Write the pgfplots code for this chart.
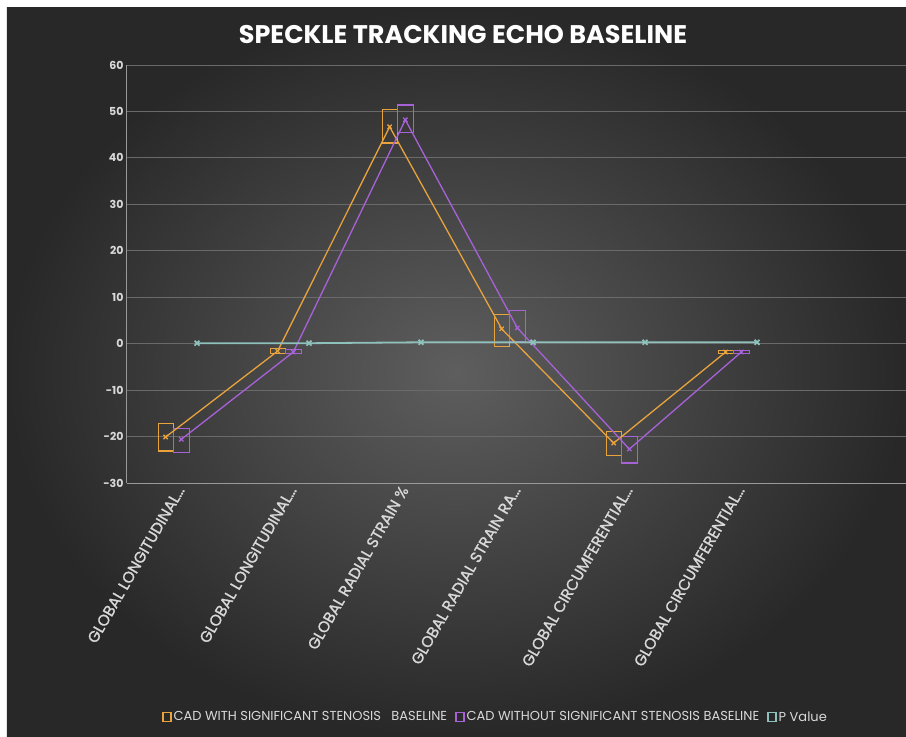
\documentclass[border=0pt]{standalone}
\usepackage{pgfplots}
\pgfplotsset{compat=1.18}
\usetikzlibrary{backgrounds}
\usepackage{fontspec}
\setmainfont{Poppins}
\newfontfamily\semib[FakeBold=1.2]{Poppins}
\definecolor{cado}{HTML}{E8A33D}
\definecolor{cadp}{HTML}{A862D8}
\definecolor{pval}{HTML}{8FC1BC}
\definecolor{txt}{HTML}{D9D9D9}
\definecolor{gridc}{HTML}{6A6A6A}
\begin{document}
\begin{tikzpicture}[x=1pt,y=1pt]
\begin{axis}[
  scale only axis, width=779pt, height=418pt,
  xmin=-0.5, xmax=6.455, ymin=-30, ymax=60,
  ytick={-30,-20,...,60},
  xtick={0,1,2,3,4,5},
  xticklabels={{GLOBAL LONGITUDINAL\ldots},{GLOBAL LONGITUDINAL\ldots},{GLOBAL RADIAL STRAIN \%},{GLOBAL RADIAL STRAIN RA\ldots},{GLOBAL CIRCUMFERENTIAL\ldots},{GLOBAL CIRCUMFERENTIAL\ldots}},
  x tick label style={rotate=60, anchor=east, text=txt, font=\semib\fontsize{15.5}{17}\selectfont, inner sep=5pt},
  y tick label style={text=txt, font=\bfseries\fontsize{11}{13}\selectfont},
  /pgf/number format/assume math mode=true,
  major tick length=0pt,
  ymajorgrids, grid style={gridc, line width=0.8pt},
  axis x line*=bottom, axis y line*=left,
  axis line style={draw=gray!80!white, line width=1pt},
  unbounded coords=jump,
  legend columns=3,
  legend style={at={(0.473,-0.56)}, anchor=center, draw=none, fill=none, text=txt, font=\fontsize{13}{15}\selectfont, /tikz/every even column/.append style={column sep=6pt}},
]
% boxes
\addplot[cado, line width=1.1pt, forget plot] coordinates {
(-0.222,-17.1)(-0.088,-17.1)(-0.088,-23.1)(-0.222,-23.1)(-0.222,-17.1)(nan,nan)
(0.778,-1.1)(0.912,-1.1)(0.912,-2.1)(0.778,-2.1)(0.778,-1.1)(nan,nan)
(1.778,50.5)(1.912,50.5)(1.912,43.2)(1.778,43.2)(1.778,50.5)(nan,nan)
(2.778,6.2)(2.912,6.2)(2.912,-0.7)(2.778,-0.7)(2.778,6.2)(nan,nan)
(3.778,-19.0)(3.912,-19.0)(3.912,-24.0)(3.778,-24.0)(3.778,-19.0)(nan,nan)
(4.778,-1.4)(4.912,-1.4)(4.912,-2.2)(4.778,-2.2)(4.778,-1.4)};
\addplot[cadp, line width=1.1pt, forget plot] coordinates {
(-0.085,-18.2)(0.055,-18.2)(0.055,-23.5)(-0.085,-23.5)(-0.085,-18.2)(nan,nan)
(0.915,-1.3)(1.055,-1.3)(1.055,-2.2)(0.915,-2.2)(0.915,-1.3)(nan,nan)
(1.915,51.4)(2.055,51.4)(2.055,45.4)(1.915,45.4)(1.915,51.4)(nan,nan)
(2.915,7.2)(3.055,7.2)(3.055,0.5)(2.915,0.5)(2.915,7.2)(nan,nan)
(3.915,-19.9)(4.055,-19.9)(4.055,-25.7)(3.915,-25.7)(3.915,-19.9)(nan,nan)
(4.915,-1.4)(5.055,-1.4)(5.055,-2.2)(4.915,-2.2)(4.915,-1.4)};
% lines
\addplot[cado, line width=1.3pt, mark=x, mark size=3pt, mark options={solid},
  legend image code/.code={\draw[draw=cado, line width=1.5pt] (0pt,-4.5pt) rectangle (8pt,4.5pt);}] coordinates {
(-0.155,-20.1)(0.845,-1.6)(1.845,46.7)(2.845,3.2)(3.845,-21.4)(4.845,-1.8)};
\addlegendentry{CAD WITH SIGNIFICANT STENOSIS\ \ \ BASELINE}
\addplot[cadp, line width=1.3pt, mark=x, mark size=3pt, mark options={solid},
  legend image code/.code={\draw[draw=cadp, line width=1.5pt] (0pt,-4.5pt) rectangle (8pt,4.5pt);}] coordinates {
(-0.015,-20.6)(0.985,-1.8)(1.985,48.2)(2.985,3.4)(3.985,-22.7)(4.985,-1.8)};
\addlegendentry{CAD WITHOUT SIGNIFICANT STENOSIS BASELINE}
\addplot[pval, line width=1.8pt, mark=x, mark size=3.5pt, mark options={solid},
  legend image code/.code={\draw[draw=pval, line width=1.5pt] (0pt,-4.5pt) rectangle (8pt,4.5pt);}] coordinates {
(0.125,0.1)(1.125,0.1)(2.125,0.3)(3.125,0.3)(4.125,0.3)(5.125,0.3)};
\addlegendentry{P Value}
\coordinate (O) at (rel axis cs:0,0);
\end{axis}
\begin{scope}[shift={(O)}, xshift=-127pt, yshift=483pt]
  \node[text=white, font=\bfseries\fontsize{25.5}{30}\selectfont] at (463,-35) {SPECKLE TRACKING ECHO BASELINE};
\end{scope}
\begin{scope}[on background layer, shift={(O)}, xshift=-127pt, yshift=483pt]
  \fill[white] (0,0) rectangle (906,-737);
  \shade[inner color={rgb,255:red,94;green,94;blue,94}, outer color={rgb,255:red,40;green,40;blue,40}] (7,-8) rectangle (906,-737);
\end{scope}
\pgfresetboundingbox
\path[use as bounding box, shift={(O)}, xshift=-127pt, yshift=483pt] (0,0) rectangle (906,-737);
\end{tikzpicture}
\end{document}
